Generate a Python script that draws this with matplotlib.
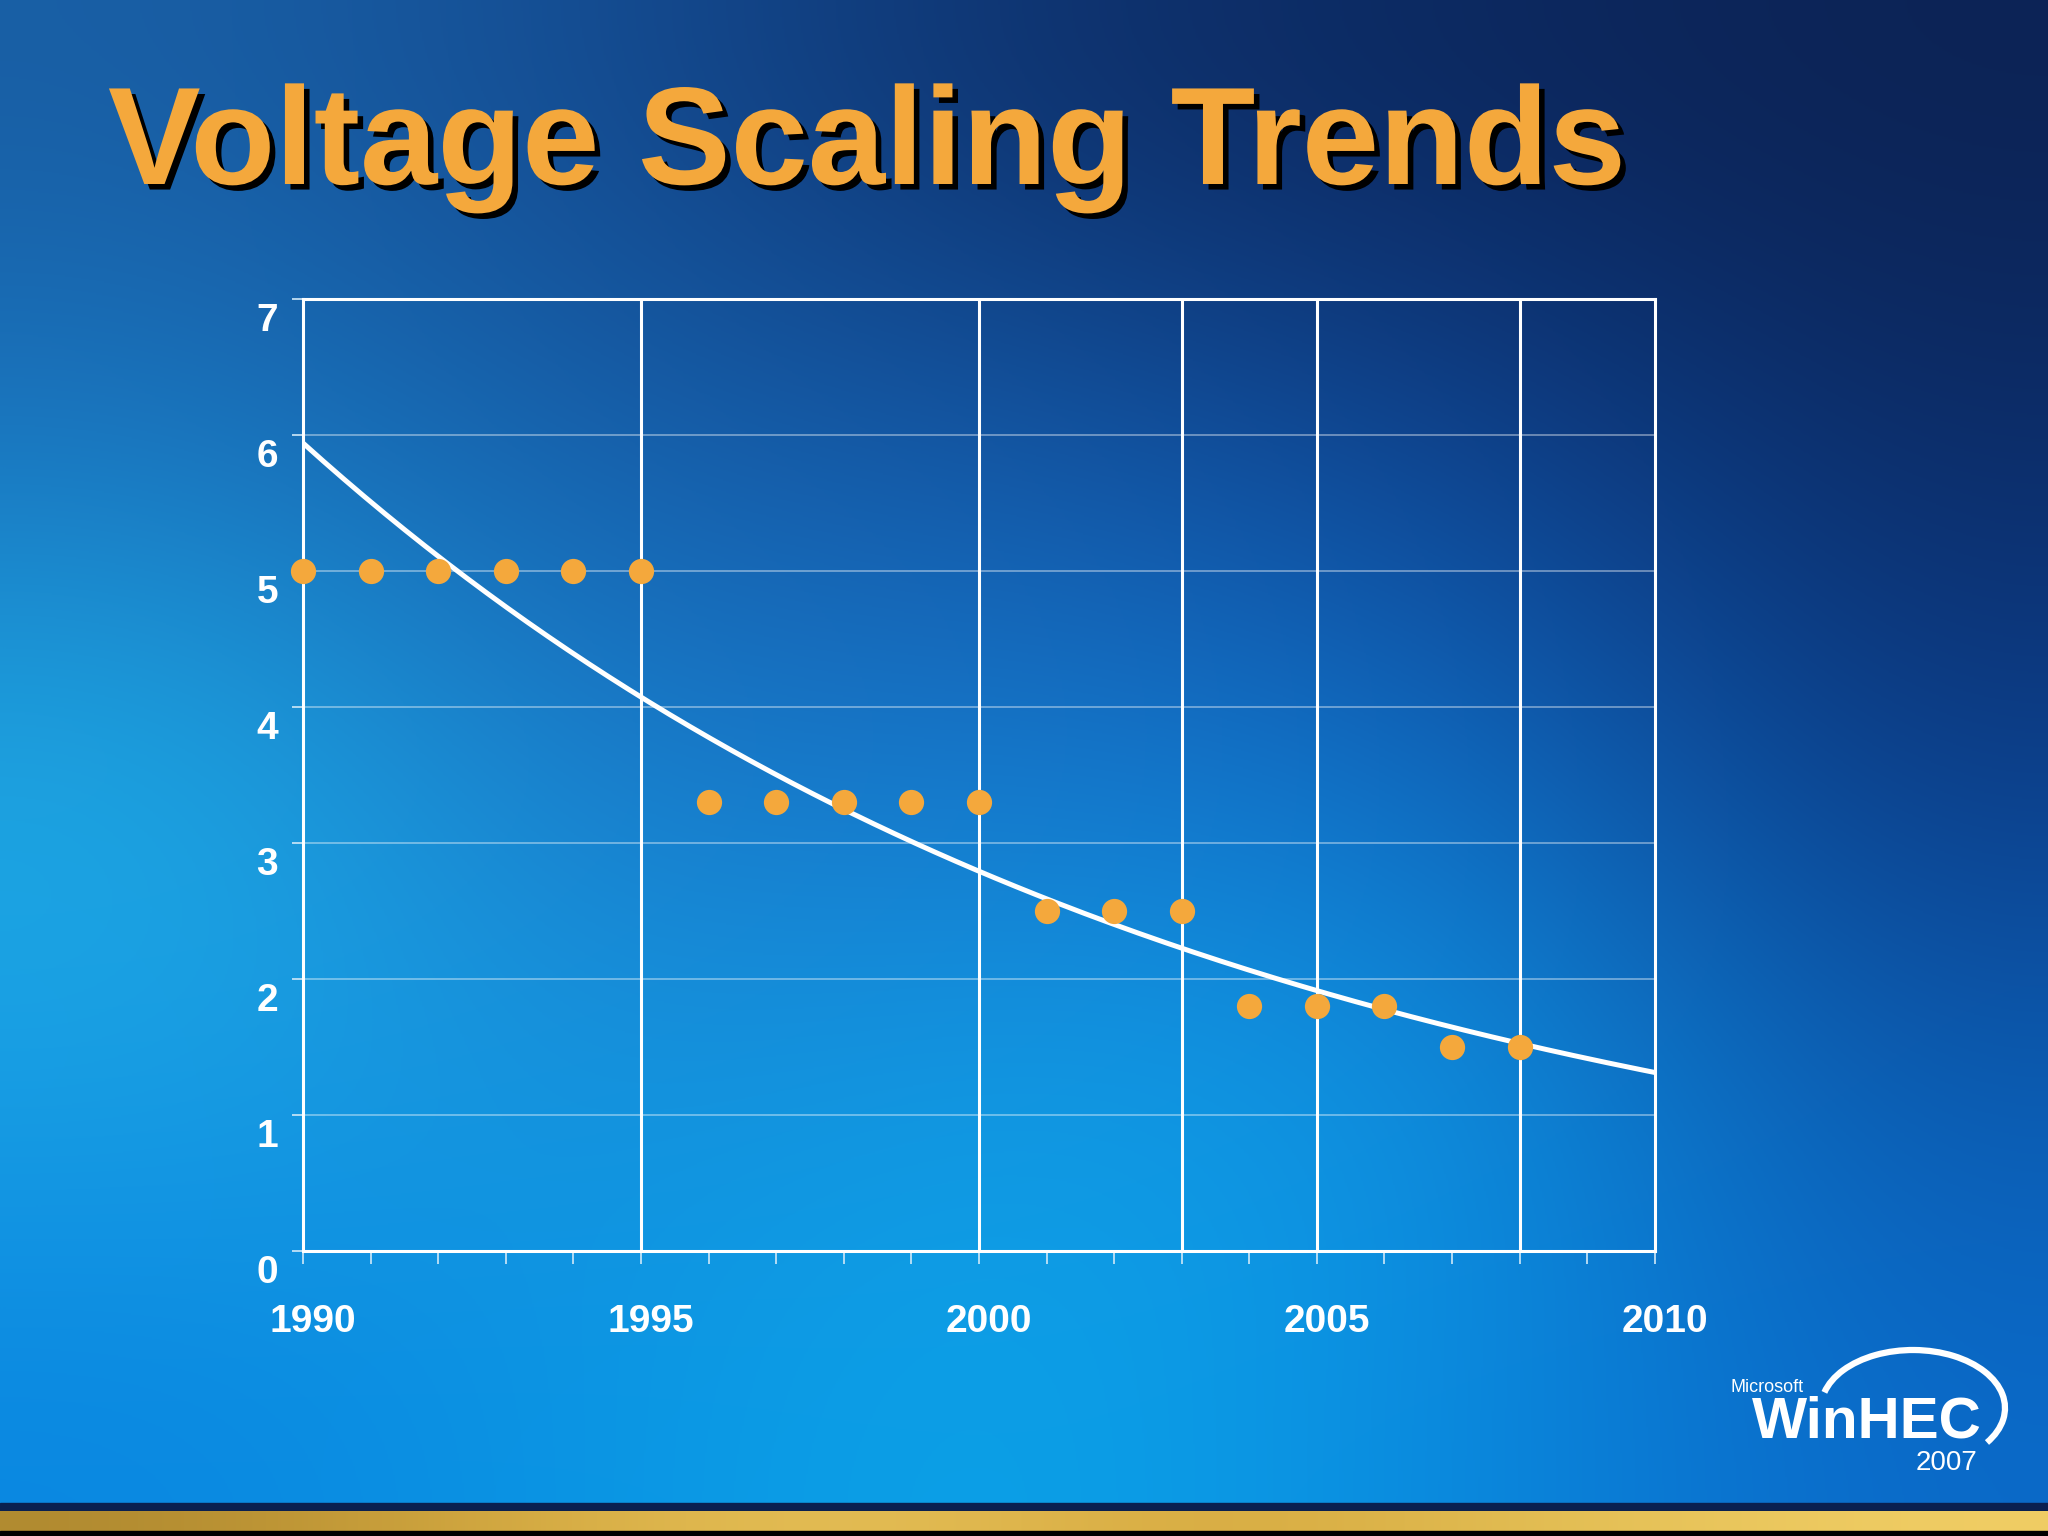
import numpy as np
import matplotlib
matplotlib.use("Agg")
import matplotlib.pyplot as plt
from matplotlib import patheffects, transforms
from matplotlib.patches import Arc, Rectangle

plt.rcParams['font.family'] = ['Liberation Sans', 'DejaVu Sans']

# data
years = [1990, 1991, 1992, 1993, 1994, 1995, 1996, 1997, 1998, 1999,
         2000, 2001, 2002, 2003, 2004, 2005, 2006, 2007, 2008]
voltage = [5.0, 5.0, 5.0, 5.0, 5.0, 5.0, 3.3, 3.3, 3.3, 3.3,
           3.3, 2.5, 2.5, 2.5, 1.8, 1.8, 1.8, 1.5, 1.5]
marker_years = [1995, 2000, 2003, 2005, 2008]
x_ticks = [1990, 1995, 2000, 2005, 2010]
y_ticks = [0, 1, 2, 3, 4, 5, 6, 7]
title = "Voltage Scaling Trends"

ORANGE = "#F4A83C"

fig = plt.figure(figsize=(20.48, 15.36), dpi=100)

# slide background (pixel coordinates)
bg = fig.add_axes([0, 0, 1, 1], zorder=-5)
bg_colors = np.array([
    [(25, 95, 165), (20, 75, 145), (14, 50, 110), (12, 40, 95), (12, 35, 85)],
    [(25, 120, 195), (22, 95, 170), (20, 90, 170), (14, 70, 150), (12, 45, 105)],
    [(30, 170, 228), (25, 120, 200), (22, 120, 205), (15, 110, 200), (12, 60, 135)],
    [(25, 160, 228), (22, 145, 220), (18, 155, 228), (15, 150, 228), (12, 90, 175)],
    [(10, 135, 225), (10, 150, 228), (12, 165, 232), (10, 140, 225), (10, 105, 200)],
]) / 255.0
bg.imshow(bg_colors, extent=[0, 2048, 1536, 0], interpolation='bicubic', aspect='auto')

# gold bar at the bottom
gold = np.array([[(176, 138, 48), (214, 170, 64), (232, 196, 92), (212, 166, 60),
                  (226, 190, 84), (240, 205, 100)]]) / 255.0
bg.add_patch(Rectangle((0, 1503), 2048, 8, color="#0A2050", zorder=2))
bg.imshow(gold, extent=[0, 2048, 1531, 1511], interpolation='bicubic', aspect='auto', zorder=3)
bg.add_patch(Rectangle((0, 1531), 2048, 6, color="black", zorder=4))
bg.set_xlim(0, 2048)
bg.set_ylim(1536, 0)
bg.axis('off')

# title with drop shadow
bg.text(108, 184, title, fontsize=100, fontweight='bold', color=ORANGE,
        ha='left', va='baseline',
        path_effects=[patheffects.withSimplePatchShadow(offset=(4, -4), shadow_rgbFace='black', alpha=1.0)])

# WinHEC logo
bg.text(1730, 1388, "Microsoft", fontsize=13, color='white', ha='left', va='center')
bg.text(1752, 1438, "WinHEC", fontsize=42, fontweight='bold', color='white', ha='left', va='baseline')
bg.text(1977, 1470, "2007", fontsize=20, color='white', ha='right', va='baseline')
bg.add_patch(Arc((1913, 1408), 184, 116, theta1=190, theta2=385, color='white', lw=4.5))

# chart
ax = fig.add_axes([0.148, 0.1855, 0.66, 0.6198])
ax.set_facecolor('none')

for yv in y_ticks[1:-1]:
    ax.axhline(yv, color='white', alpha=0.45, lw=1.2, zorder=1)
for xv in marker_years:
    ax.axvline(xv, color='white', lw=2.2, zorder=1)

fit = np.polyfit(np.array(years) - 1990, np.log(voltage), 1)
trend_x = np.linspace(1990, 2010, 200)
trend_y = np.exp(np.polyval(fit, trend_x - 1990))
ax.plot(trend_x, trend_y, color='white', lw=3.6, zorder=3)

ax.scatter(years, voltage, s=330, color=ORANGE, zorder=4, clip_on=False, linewidths=0)

ax.set_xlim(1990, 2010)
ax.set_ylim(0, 7)
ax.set_xticks(x_ticks)
ax.set_xticks(range(1990, 2011), minor=True)
ax.set_yticks(y_ticks)

for s in ax.spines.values():
    s.set_color('white')
    s.set_linewidth(2.2)

ax.tick_params(axis='x', which='both', direction='out', length=9, width=1.2,
               color='#CFE8F8', labelsize=28, labelcolor='white', pad=29)
ax.tick_params(axis='y', which='major', direction='out', length=8, width=1.2,
               color='#CFE8F8', labelsize=28, labelcolor='white', pad=10)
for lab in ax.get_xticklabels():
    lab.set_fontweight('bold')
    lab.set_transform(lab.get_transform() + transforms.ScaledTranslation(0.10, 0, fig.dpi_scale_trans))
for lab in ax.get_yticklabels():
    lab.set_fontweight('bold')
    lab.set_transform(lab.get_transform() + transforms.ScaledTranslation(0, -0.18, fig.dpi_scale_trans))

fig.savefig("out.png", dpi=100)
